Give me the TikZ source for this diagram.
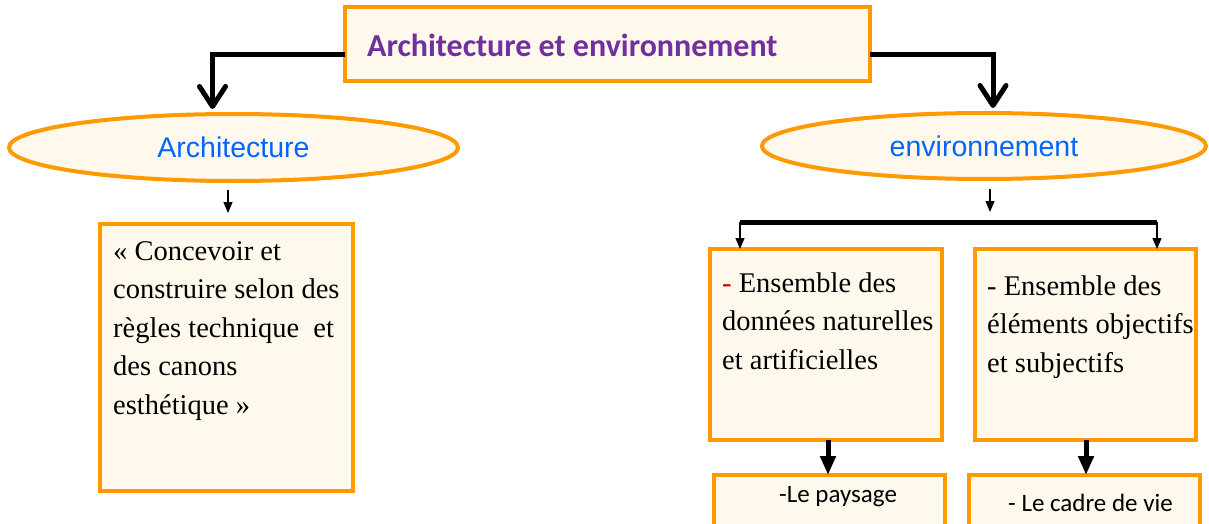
\documentclass[tikz,border=0pt]{standalone}
\usepackage{fontspec}
\setmainfont{Liberation Serif}
\newfontfamily\calib{Carlito}
\newfontfamily\arialf{Liberation Sans}
\usetikzlibrary{shapes.geometric,arrows.meta,calc}
\definecolor{boxorange}{RGB}{255,153,0}
\definecolor{cream}{RGB}{255,248,237}
\definecolor{titlepurple}{RGB}{112,48,160}
\definecolor{ovalblue}{RGB}{0,102,255}
\definecolor{dashred}{RGB}{192,0,0}

\begin{document}
\begin{tikzpicture}[x=1pt,y=-1pt,
  box/.style={draw=boxorange,line width=4pt,fill=cream,inner sep=0pt,outer sep=0pt,anchor=north west},
  oval/.style={ellipse,draw=boxorange,line width=4pt,fill=cream,inner sep=0pt,outer sep=0pt,
    text=ovalblue,font=\arialf\fontsize{28.5}{32}\selectfont},
  % multi-line text: placed by the baseline of its last line
  bodytext/.style={anchor=base west,align=left,inner sep=0pt,font=\fontsize{28.5}{38.5}\selectfont},
  smalltext/.style={anchor=base west,inner sep=0pt,font=\calib\fontsize{25}{30}\selectfont},
  barbline/.style={line width=5pt,-{Straight Barb[length=20pt,width=26pt,round]}},
  bar/.style={line width=5pt},
  thinarrow/.style={line width=1.2pt,-{Triangle[length=11pt,width=9pt]}},
  fatarrow/.style={line width=5pt,-{Triangle[length=19pt,width=15pt]}}
]
\useasboundingbox (0,0) rectangle (1209,524);

% title
\node[box,minimum width=525pt,minimum height=74pt] (title) at (345,7) {};
\node[anchor=base west,inner sep=0pt,text=titlepurple,font=\calib\bfseries\fontsize{32}{36}\selectfont]
  (titletext) at (367,57) {Architecture et environnement};

% the two ovals
\node[oval,minimum width=449pt,minimum height=67pt] (archi) at (233.5,147.5) {Architecture};
\node[oval,minimum width=444pt,minimum height=66pt] (envi) at (984,146) {environnement};

% left branch
\node[box,minimum width=253pt,minimum height=267pt] (lbox) at (100,224) {};
\node[bodytext] (ltext) at (113,414)
  {« Concevoir et\\construire selon des\\règles technique\ \ et\\des canons\\esthétique »};

% right branch
\node[box,minimum width=232pt,minimum height=191pt] (e1) at (710,249) {};
\node[box,minimum width=221pt,minimum height=191pt] (e2) at (975,249) {};
\node[bodytext] (e1text) at (722,369)
  {{\color{dashred}-} Ensemble des\\données naturelles\\et artificielles};
\node[bodytext] (e2text) at (987,372)
  {- Ensemble des\\éléments objectifs\\et subjectifs};

% last boxes run past the lower edge
\node[box,minimum width=231pt,minimum height=60pt] (p1) at (714,475) {};
\node[box,minimum width=231pt,minimum height=60pt] (p2) at (969,475) {};
\node[smalltext] (p1text) at (779,502) {-Le paysage};
\node[smalltext] (p2text) at (1008,511) {- Le cadre de vie};

% connectors from the title
\draw[barbline] ([yshift=-10.5pt]title.west) -| ($(archi.north)+(-21,-5)$);
\draw[barbline] ([yshift=-10.5pt]title.east) -| ($(envi.north)+(9,-5)$);

% small arrows under the ovals
\draw[thinarrow] ($(archi.south)+(-5.5,9)$) -- ($(lbox.north)+(1.5,-11)$);
\coordinate (barL) at (740,222);
\coordinate (barR) at (1157,222);
\draw[thinarrow] ($(envi.south)+(6,10)$) -- ($(envi.south)+(6,33)$);
\draw[bar] (barL) -- (barR);
\draw[thinarrow] (barL) -- (barL |- e1.north);
\draw[thinarrow] (barR) -- (barR |- e2.north);

% arrows down to the last boxes
\draw[fatarrow] ([xshift=2pt]e1.south) -- ([xshift=2pt]e1.south |- p1.north);
\draw[fatarrow] ([xshift=0.5pt]e2.south) -- ([xshift=0.5pt]e2.south |- p2.north);
\end{tikzpicture}
\end{document}
